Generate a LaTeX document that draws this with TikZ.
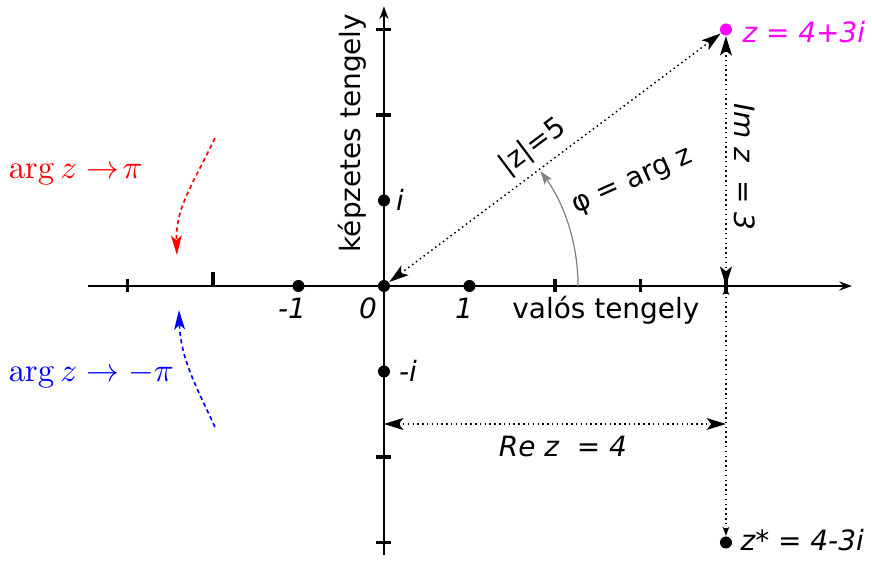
\documentclass[tikz,border=0pt]{standalone}
\usepackage[no-math]{fontspec}
\setmainfont{DejaVu Sans}
\usetikzlibrary{arrows.meta}
\definecolor{mag}{RGB}{255,0,255}
\begin{document}
\begin{tikzpicture}[
 lab/.style={font=\fontsize{9.3}{11}\selectfont, inner sep=0pt},
 ilab/.style={font=\fontsize{9.3}{11}\selectfont\itshape, inner sep=0pt},
 mlab/.style={font=\fontsize{10.5}{12}\selectfont, inner sep=0pt, anchor=west},
 axisline/.style={line width=0.75pt, -{Stealth[length=4.2pt,width=3pt]}},
 tickmark/.style={line width=1.2pt},
 dot/.style={circle, fill=black, inner sep=0pt, minimum size=4pt},
 meas/.style={line width=0.5pt, dash pattern=on 0.5pt off 1.1pt, {Stealth[length=6.5pt,width=4pt,inset=1.6pt]}-{Stealth[length=6.5pt,width=4pt,inset=1.6pt]}},
 meassmall/.style={line width=0.5pt, dash pattern=on 0.5pt off 1.1pt, {Stealth[length=3pt,width=2.2pt,inset=0.8pt]}-{Stealth[length=3pt,width=2.2pt,inset=0.8pt]}},
 curvearrow/.style={line width=0.55pt, dash pattern=on 1.4pt off 1.1pt, -{Stealth[length=6.5pt,width=3.6pt,inset=1.6pt]}},
]
\useasboundingbox (-4.491,-3.228) rectangle (5.708,3.345);

% axes
\coordinate (xl) at (-3.46,0);
\coordinate (xr) at (5.474,0);
\coordinate (yb) at (0,-3.146);
\coordinate (yt) at (0,3.27);
\draw[axisline] (xl) -- (xr);
\draw[axisline] (yb) -- (yt);

% ticks on x axis
\foreach \t in {-3,2,3,4} \draw[tickmark] (\t,-0.076) -- (\t,0.076);
\draw[tickmark] (-2,0.01) -- (-2,0.16);
% ticks on y axis
\foreach \t in {-3,-2,2,3} \draw[tickmark] (-0.088,\t) -- (0.088,\t);

% points
\node[dot] (O) at (0,0) {};
\node[dot] (P1) at (1,0) {};
\node[dot] (M1) at (-1,0) {};
\node[dot] (PI) at (0,1) {};
\node[dot] (MI) at (0,-1) {};
\node[dot, fill=mag] (Z) at (4,3) {};
\node[dot] (Zs) at (4,-3) {};
\coordinate (X4) at (4,0);

% labels
\node[ilab] at (-1.076,-0.257) {-1};
\node[ilab] at (-0.187,-0.257) {0};
\node[ilab] at (0.936,-0.257) {1};
\node[ilab] at (0.187,1.006) {i};
\node[ilab] at (0.281,-0.994) {-i};
\node[lab] at (2.596,-0.281) {valós tengely};
\node[lab, rotate=90] at (-0.374,1.789) {képzetes tengely};
\node[ilab, text=mag, anchor=west] at (4.187,2.971) {z = 4+3i};
\node[ilab, anchor=west] at (4.164,-2.971) {z* = 4-3i};

% modulus
\draw[meas] (O) -- (Z);
\node[lab, rotate=36.87] at (1.743,1.626) {|z|=5};

% angle
\coordinate (a0) at (2.27,0);
\draw[gray, line width=0.4pt, -{Stealth[length=4.5pt,width=3pt,inset=1pt]}] (a0) arc[start angle=0, end angle=36.3, radius=2.27];
\node[lab, rotate=24] at (2.912,1.205) {φ = arg z};

% imaginary part
\draw[meas] (Z) -- (X4);
\node[ilab, rotate=-90] at (4.222,1.392) {Im z \ = 3};
\draw[meassmall] (X4) -- (Zs);

% real part
\coordinate (ra) at (0,-1.614);
\coordinate (rb) at (4,-1.614);
\draw[meas] (ra) -- (rb);
\node[ilab] at (2.094,-1.883) {Re z \ = 4};

% limits of arg
\coordinate (rs) at (-1.977,1.731);
\coordinate (re) at (-2.421,0.363);
\draw[curvearrow, red] (rs) to[out=245, in=92] (re);
\node[mlab, text=red] at (-4.398,1.298) {$\arg z \to\! \pi$};
\coordinate (bs) at (-1.977,-1.649);
\coordinate (be) at (-2.398,-0.281);
\draw[curvearrow, blue] (bs) to[out=115, in=-88] (be);
\node[mlab, text=blue] at (-4.398,-1.041) {$\arg z \to -\pi$};
\end{tikzpicture}
\end{document}
